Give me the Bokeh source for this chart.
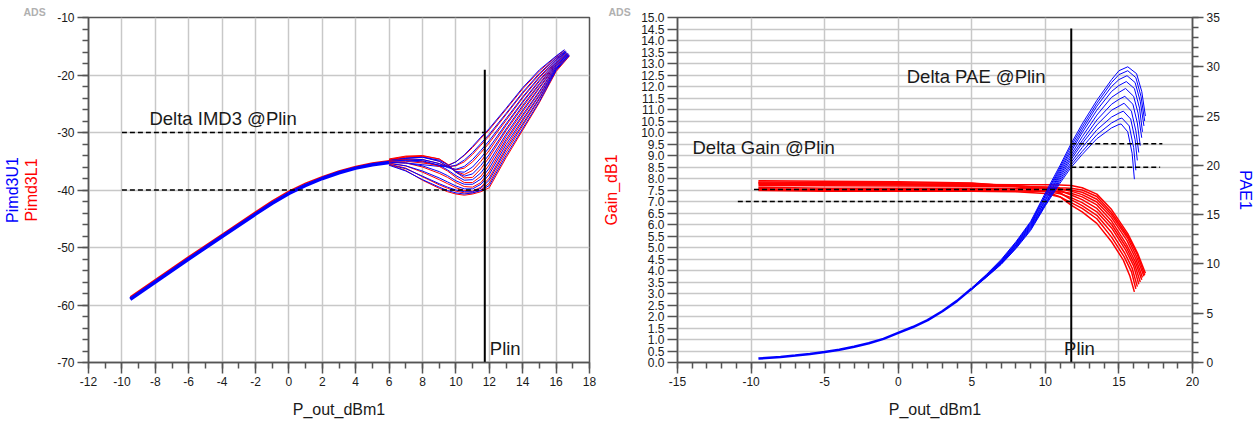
from bokeh.plotting import figure
from bokeh.models import (Range1d, LinearAxis, SingleIntervalTicker, FixedTicker,
                          PrintfTickFormatter, Label)
from bokeh.layouts import row
from bokeh.embed import file_html
from bokeh.resources import INLINE

FONT = "Liberation Sans"
BLUE = "#0000ff"
RED = "#ff0000"
AXC = "#555555"
GRID = "#c8c8c8"

# ---------------- left chart: IMD3 vs P_out ----------------
imd_trunk_x = [-9.5, -8, -6, -4, -2, -1, 0, 1, 2, 3, 4, 5, 6]
imd3u_trunk = [-59.0, -56.0, -52.0, -48.1, -44.2, -42.3, -40.6, -39.2, -38.0, -37.0, -36.2, -35.6, -35.2]
imd3l_trunk = [-58.6, -55.6, -51.6, -47.7, -43.8, -41.9, -40.2, -38.8, -37.7, -36.7, -35.9, -35.3, -34.9]

imd_tail_x = [6, 7, 8, 9, 9.5, 10, 10.5, 11, 11.5, 12, 13, 14, 15, 16]
imd3u_tails = [
    [-35.2, -35.3, -35.6, -35.9, -35.8, -35.1, -33.9, -32.4, -30.8, -29.3, -25.8, -22.2, -19.1, -16.7],
    [-35.0, -34.9, -35.1, -35.7, -36.0, -35.7, -34.8, -33.5, -31.9, -30.3, -26.7, -23.0, -19.7, -17.0],
    [-34.9, -34.6, -34.7, -35.4, -36.1, -36.4, -35.9, -34.7, -33.1, -31.4, -27.6, -23.8, -20.3, -17.3],
    [-34.8, -34.4, -34.3, -35.0, -35.9, -36.8, -36.9, -36.0, -34.4, -32.6, -28.5, -24.6, -20.9, -17.6],
    [-34.9, -34.5, -34.3, -34.8, -35.6, -36.9, -37.6, -37.2, -35.7, -33.8, -29.4, -25.3, -21.5, -17.9],
    [-35.0, -34.8, -34.9, -35.7, -36.5, -37.5, -38.3, -38.2, -37.0, -35.0, -30.3, -26.1, -22.1, -18.2],
    [-35.2, -35.3, -35.8, -36.8, -37.5, -38.4, -39.0, -39.0, -38.1, -36.2, -31.2, -26.9, -22.8, -18.5],
    [-35.4, -35.8, -36.7, -37.9, -38.6, -39.3, -39.8, -39.8, -39.0, -37.3, -32.1, -27.7, -23.4, -18.8],
    [-35.6, -36.3, -37.6, -38.9, -39.5, -40.0, -40.3, -40.3, -39.7, -38.3, -33.0, -28.5, -24.0, -19.0],
    [-35.7, -36.7, -38.2, -39.5, -40.1, -40.5, -40.7, -40.5, -40.1, -39.2, -34.0, -29.3, -24.6, -19.2],
]
imd3u_end_x = [16.5, 16.55, 16.6, 16.6, 16.65, 16.7, 16.7, 16.75, 16.75, 16.8]
imd3u_end_y = [-15.6, -15.8, -15.9, -16.0, -16.1, -16.2, -16.3, -16.4, -16.5, -16.6]

imd3l_tails = [
    [-35.0, -35.0, -35.3, -35.7, -35.7, -35.1, -34.0, -32.6, -31.0, -29.5, -26.0, -22.4, -19.3, -16.8],
    [-34.8, -34.6, -34.7, -35.4, -35.9, -35.8, -35.1, -33.8, -32.2, -30.6, -26.9, -23.2, -19.9, -17.1],
    [-34.7, -34.2, -34.2, -35.0, -35.9, -36.5, -36.2, -35.1, -33.5, -31.8, -27.9, -24.0, -20.5, -17.4],
    [-34.6, -34.1, -34.0, -34.6, -35.6, -36.8, -37.3, -36.6, -35.0, -33.1, -28.8, -24.8, -21.1, -17.8],
    [-34.7, -34.3, -34.1, -34.6, -35.5, -36.9, -37.9, -37.8, -36.3, -34.3, -29.7, -25.6, -21.7, -18.1],
    [-34.9, -34.7, -35.0, -35.9, -36.7, -37.8, -38.7, -38.7, -37.6, -35.6, -30.7, -26.4, -22.3, -18.4],
    [-35.1, -35.3, -36.0, -37.1, -37.8, -38.7, -39.4, -39.5, -38.7, -36.8, -31.6, -27.2, -23.0, -18.7],
    [-35.3, -35.8, -36.9, -38.2, -38.9, -39.6, -40.1, -40.2, -39.5, -37.9, -32.6, -28.0, -23.6, -19.0],
    [-35.5, -36.2, -37.7, -39.1, -39.7, -40.2, -40.5, -40.5, -40.0, -38.8, -33.5, -28.8, -24.2, -19.2],
    [-35.6, -36.6, -38.3, -39.7, -40.3, -40.7, -40.9, -40.7, -40.3, -39.6, -34.4, -29.6, -24.8, -19.4],
]
imd3l_end_x = [16.5, 16.55, 16.6, 16.6, 16.65, 16.7, 16.7, 16.75, 16.75, 16.8]
imd3l_end_y = [-15.7, -15.9, -16.0, -16.1, -16.2, -16.3, -16.4, -16.5, -16.6, -16.7]

plin_left = 11.73
plin_left_top = -19.1
delta_imd3_levels = [-30, -40]
delta_imd3_x0 = -10.0

# ---------------- right chart: Gain and PAE vs P_out ----------------
gain_x = [-9.5, -5, 0, 5, 8, 10, 11, 11.75, 12.5, 13.5, 14.5]
gain_curves = [
    [7.90, 7.88, 7.86, 7.80, 7.65, 7.45, 7.20, 6.84, 6.55, 6.05, 5.25],
    [7.48, 7.45, 7.45, 7.45, 7.42, 7.35, 7.20, 6.95, 6.70, 6.25, 5.45],
    [7.85, 7.83, 7.82, 7.78, 7.68, 7.55, 7.38, 7.08, 6.82, 6.40, 5.65],
    [7.52, 7.48, 7.48, 7.48, 7.46, 7.44, 7.34, 7.17, 6.95, 6.55, 5.85],
    [7.80, 7.78, 7.77, 7.74, 7.68, 7.60, 7.48, 7.28, 7.08, 6.70, 6.00],
    [7.56, 7.52, 7.52, 7.52, 7.50, 7.48, 7.42, 7.36, 7.20, 6.85, 6.15],
    [7.75, 7.73, 7.72, 7.70, 7.66, 7.62, 7.55, 7.45, 7.30, 6.98, 6.30],
    [7.62, 7.58, 7.58, 7.58, 7.57, 7.56, 7.52, 7.50, 7.40, 7.10, 6.42],
    [7.70, 7.68, 7.67, 7.66, 7.64, 7.63, 7.60, 7.58, 7.50, 7.22, 6.52],
    [7.80, 7.76, 7.75, 7.74, 7.73, 7.73, 7.72, 7.70, 7.60, 7.32, 6.65],
]
gain_end_x = [
    [15.3, 15.75, 16.05], [15.35, 15.85, 16.15], [15.4, 15.9, 16.25], [15.45, 16.0, 16.35],
    [15.5, 16.05, 16.45], [15.5, 16.1, 16.55], [15.55, 16.15, 16.6], [15.6, 16.2, 16.7],
    [15.6, 16.25, 16.75], [15.6, 16.27, 16.8],
]
gain_end = [
    [4.45, 3.75, 3.07], [4.60, 3.95, 3.20], [4.75, 4.10, 3.30], [4.90, 4.20, 3.40],
    [5.00, 4.30, 3.50], [5.15, 4.40, 3.60], [5.30, 4.50, 3.70], [5.40, 4.60, 3.75],
    [5.50, 4.70, 3.80], [5.60, 4.75, 3.88],
]

pae_trunk_x = [-9.5, -8, -7, -6, -5, -4, -3, -2, -1, 0, 1, 2, 3, 4, 5]
pae_trunk = [0.4, 0.56, 0.7, 0.87, 1.07, 1.3, 1.6, 1.95, 2.4, 3.0, 3.6, 4.3, 5.2, 6.25, 7.5]
pae_tail_x = [5, 6, 7, 8, 9, 10, 11, 11.75, 12.5, 13.5, 14.5, 15.0]
pae_tails = [
    [7.40, 8.65, 9.95, 11.55, 13.4, 15.9, 18.2, 19.80, 21.1, 22.7, 23.8, 24.15],
    [7.42, 8.68, 10.00, 11.63, 13.5, 16.0, 18.4, 20.05, 21.4, 23.1, 24.3, 24.70],
    [7.44, 8.71, 10.05, 11.70, 13.6, 16.1, 18.6, 20.30, 21.8, 23.6, 24.9, 25.30],
    [7.46, 8.74, 10.10, 11.78, 13.7, 16.2, 18.8, 20.60, 22.2, 24.1, 25.6, 26.00],
    [7.48, 8.77, 10.15, 11.85, 13.8, 16.4, 19.0, 20.85, 22.5, 24.6, 26.2, 26.70],
    [7.50, 8.80, 10.20, 11.92, 13.9, 16.5, 19.2, 21.10, 22.9, 25.1, 26.9, 27.40],
    [7.52, 8.83, 10.25, 12.00, 14.0, 16.7, 19.4, 21.40, 23.3, 25.6, 27.5, 28.10],
    [7.54, 8.86, 10.30, 12.08, 14.1, 16.9, 19.6, 21.65, 23.6, 26.0, 28.0, 28.70],
    [7.56, 8.90, 10.37, 12.16, 14.2, 17.0, 19.8, 21.95, 23.9, 26.3, 28.4, 29.20],
    [7.58, 8.94, 10.45, 12.25, 14.3, 17.2, 20.0, 22.20, 24.2, 26.6, 28.7, 29.60],
]
pae_drop_x = [
    [15.15, 15.6, 15.9, 16.05], [15.2, 15.7, 16.0, 16.15], [15.3, 15.8, 16.1, 16.25],
    [15.35, 15.85, 16.15, 16.35], [15.4, 15.95, 16.25, 16.45], [15.45, 16.0, 16.3, 16.55],
    [15.5, 16.05, 16.4, 16.6], [15.55, 16.1, 16.45, 16.7], [15.6, 16.15, 16.5, 16.75],
    [15.6, 16.2, 16.55, 16.8],
]
pae_drop = [
    [24.2, 23.4, 21.2, 18.6], [24.8, 24.0, 21.8, 19.5], [25.5, 24.7, 22.6, 20.5],
    [26.3, 25.5, 23.5, 21.3], [27.0, 26.2, 24.3, 22.0], [27.8, 27.0, 25.3, 22.8],
    [28.5, 27.8, 25.8, 23.4], [29.1, 28.4, 26.5, 24.0], [29.6, 28.9, 27.0, 24.5],
    [30.0, 29.3, 27.5, 25.0],
]

plin_right = 11.76
plin_right_top = 14.52
delta_gain_levels = [7.52, 7.0]
delta_gain_x0 = [-9.8, -10.9]
delta_pae_levels = [22.2, 19.8]
delta_pae_x1 = [17.95, 17.8]


def style_axis(ax, major_out=11, minor_out=6):
    ax.axis_line_color = AXC
    ax.axis_line_width = 1.5
    ax.major_tick_line_color = AXC
    ax.major_tick_line_width = 1.5
    ax.minor_tick_line_color = AXC
    ax.minor_tick_line_width = 1.5
    ax.major_tick_in = 0
    ax.major_tick_out = major_out
    ax.minor_tick_in = 0
    ax.minor_tick_out = minor_out
    ax.major_label_text_font = FONT
    ax.major_label_text_font_size = "12px"
    ax.major_label_text_color = "#1a1a1a"
    ax.major_label_standoff = 3
    ax.axis_label_text_font = FONT
    ax.axis_label_text_font_size = "16px"
    ax.axis_label_text_font_style = "normal"
    ax.axis_label_text_color = "#1a1a1a"
    ax.axis_label_standoff = 12


def base_fig(xr, yr, w, mbl, mbr, ads_offset):
    p = figure(width=w, height=421, x_range=xr, y_range=yr,
               output_backend="svg", toolbar_location=None,
               min_border_left=mbl, min_border_right=mbr, min_border_top=17, min_border_bottom=59)
    p.background_fill_color = "white"
    p.border_fill_color = "white"
    p.outline_line_color = AXC
    p.outline_line_width = 1.5
    p.xgrid.grid_line_color = GRID
    p.xgrid.grid_line_width = 1.5
    p.ygrid.grid_line_color = GRID
    p.ygrid.grid_line_width = 1.5
    p.title.text = "ADS"
    p.title.align = "left"
    p.title.offset = ads_offset
    p.title.standoff = 0
    p.title.text_font = FONT
    p.title.text_font_size = "10.5px"
    p.title.text_font_style = "bold"
    p.title.text_color = "#b0b0b0"
    return p


def text(p, x, y, s, y_range_name="default"):
    p.add_layout(Label(x=x, y=y, text=s, text_font=FONT, text_font_size="18.5px",
                       text_color="#1a1a1a", text_align="left", text_baseline="alphabetic",
                       y_range_name=y_range_name))


# ---------------- left figure ----------------
p1 = base_fig(Range1d(-12, 18), Range1d(-70, -10), 600, 87, 11, -65)
p1.xaxis[0].ticker = SingleIntervalTicker(interval=2, num_minor_ticks=2)
p1.yaxis[0].ticker = SingleIntervalTicker(interval=10, num_minor_ticks=5)
p1.xaxis[0].formatter = PrintfTickFormatter(format="%d")
p1.yaxis[0].formatter = PrintfTickFormatter(format="%d")
p1.xaxis[0].axis_label = "P_out_dBm1"
style_axis(p1.xaxis[0])
style_axis(p1.yaxis[0])
p1.yaxis[0].axis_label = "Pimd3L1"
p1.yaxis[0].axis_label_text_color = RED
p1.yaxis[0].axis_label_standoff = 14

ax_u = LinearAxis(ticker=FixedTicker(ticks=[]), axis_label="Pimd3U1")
ax_u.axis_line_color = None
ax_u.major_tick_out = 0
ax_u.minor_tick_out = 0
ax_u.major_label_standoff = 0
ax_u.major_label_text_font_size = "1px"
ax_u.axis_label_standoff = 0
ax_u.axis_label_text_font = FONT
ax_u.axis_label_text_font_size = "16px"
ax_u.axis_label_text_font_style = "normal"
ax_u.axis_label_text_color = BLUE
p1.add_layout(ax_u, "left")

p1.line(imd_trunk_x, imd3l_trunk, color=RED, line_width=1.5)
p1.line(imd_trunk_x, imd3u_trunk, color=BLUE, line_width=3.5)
for k in range(len(imd3u_tails)):
    p1.line(imd_tail_x + [imd3l_end_x[k]], imd3l_tails[k] + [imd3l_end_y[k]], color=RED, line_width=1)
    p1.line(imd_tail_x + [imd3u_end_x[k]], imd3u_tails[k] + [imd3u_end_y[k]], color=BLUE, line_width=1)

for lvl in delta_imd3_levels:
    p1.line([delta_imd3_x0, plin_left], [lvl, lvl], color="black", line_width=1.5, line_dash="5 3")
p1.line([plin_left, plin_left], [-70, plin_left_top], color="black", line_width=2)

text(p1, -8.35, -27.55, "Delta IMD3 @Plin")
text(p1, 12.03, -67.6, "Plin")

# ---------------- right figure ----------------
p2 = base_fig(Range1d(-15, 20), Range1d(0, 15), 658, 75, 66, -69)
p2.extra_y_ranges = {"pae": Range1d(0, 35)}
p2.xaxis[0].ticker = SingleIntervalTicker(interval=5, num_minor_ticks=5)
p2.yaxis[0].ticker = SingleIntervalTicker(interval=0.5, num_minor_ticks=0)
p2.xaxis[0].formatter = PrintfTickFormatter(format="%d")
p2.yaxis[0].formatter = PrintfTickFormatter(format="%.1f")
p2.xaxis[0].axis_label = "P_out_dBm1"
style_axis(p2.xaxis[0])
style_axis(p2.yaxis[0], major_out=10)
p2.yaxis[0].axis_label = "Gain_dB1"
p2.yaxis[0].axis_label_text_color = RED
p2.yaxis[0].axis_label_standoff = 18

ax_r = LinearAxis(y_range_name="pae", ticker=SingleIntervalTicker(interval=5, num_minor_ticks=5),
                  formatter=PrintfTickFormatter(format="%d"))
style_axis(ax_r)
ax_r.axis_label = "PAE1"
ax_r.axis_label_text_color = BLUE
ax_r.axis_label_standoff = 14
p2.add_layout(ax_r, "right")

for k in range(len(gain_curves)):
    p2.line(gain_x + gain_end_x[k], gain_curves[k] + gain_end[k], color=RED, line_width=1.5)

p2.line(pae_trunk_x, pae_trunk, color=BLUE, line_width=2.5, y_range_name="pae")
for k in range(len(pae_tails)):
    p2.line(pae_tail_x + pae_drop_x[k], pae_tails[k] + pae_drop[k], color=BLUE, line_width=1,
            y_range_name="pae")

for lvl, x0 in zip(delta_gain_levels, delta_gain_x0):
    p2.line([x0, plin_right], [lvl, lvl], color="black", line_width=1.5, line_dash="5 3")
for lvl, x1 in zip(delta_pae_levels, delta_pae_x1):
    p2.line([plin_right, x1], [lvl, lvl], color="black", line_width=1.5, line_dash="5 3",
            y_range_name="pae")
p2.line([plin_right, plin_right], [0, plin_right_top], color="black", line_width=2)

text(p2, -13.98, 9.35, "Delta Gain @Plin")
text(p2, 0.58, 12.45, "Delta PAE @Plin")
text(p2, 11.27, 0.62, "Plin")

layout = row(p1, p2)
open("out.html", "w").write(file_html(layout, INLINE))
